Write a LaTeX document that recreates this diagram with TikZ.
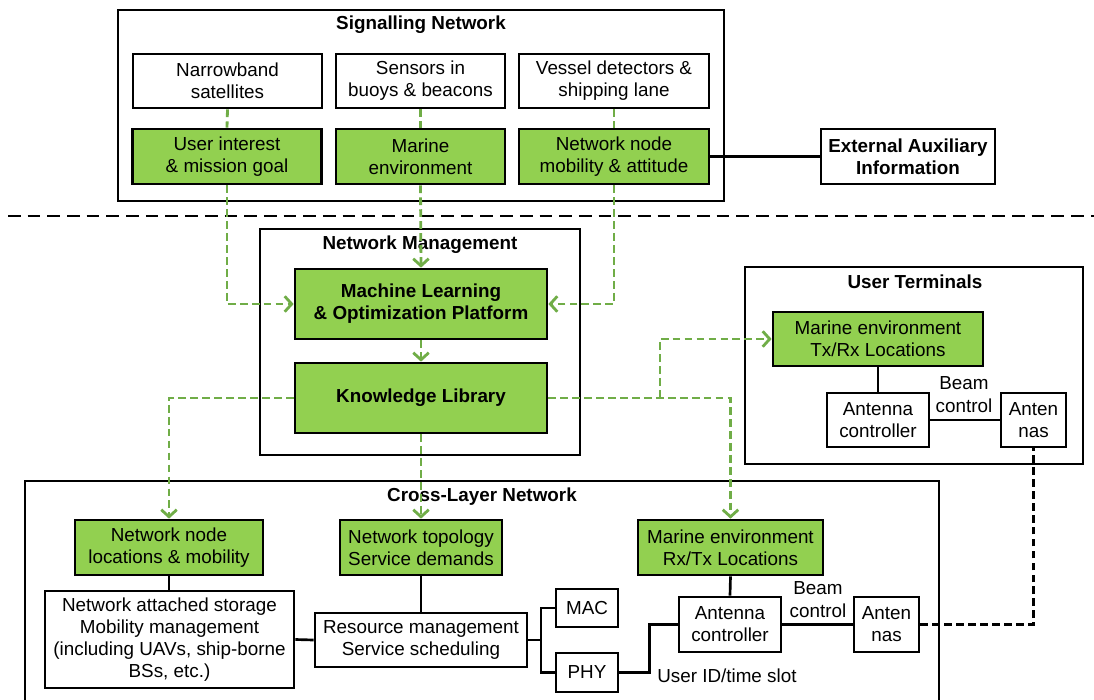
\documentclass[tikz,border=0pt]{standalone}
\usepackage{fontspec}
\setmainfont{Liberation Sans}
\usepackage{tikz}
\usetikzlibrary{arrows.meta,positioning}
\usepackage{xcolor}
\definecolor{mgreen}{RGB}{146,208,80}
\definecolor{mgreendark}{RGB}{112,173,71}
\tikzstyle{block} = [rectangle, draw=black, line width=1.9pt, align=center, inner sep=1pt, font=\fontsize{13.4}{15.6}\selectfont]
\tikzstyle{greenblock} = [block, fill=mgreen]
\tikzstyle{layerbox} = [draw=black, line width=1.9pt]
\tikzstyle{layertitle} = [font=\fontsize{13.4}{15.6}\selectfont\bfseries]
\tikzstyle{lbl} = [align=center, inner sep=0pt, font=\fontsize{13.4}{16.3}\selectfont]
\tikzstyle{greendash} = [draw=mgreendark, line width=2pt, dash pattern=on 5.5pt off 3pt]
\tikzstyle{flow} = [greendash, -{Straight Barb[length=5pt,width=11pt,line width=2pt]}]
\tikzstyle{link} = [draw=black, line width=1.9pt]

\begin{document}
\begin{tikzpicture}[x=0.025cm, y=-0.025cm]
\useasboundingbox (0,0) rectangle (1094,699);

% layers
\draw[layerbox] (118,10) rectangle (724,201);
\node (sigtitle) [layertitle] at (421,25) {Signalling Network};
\draw[layerbox] (260,229) rectangle (580,455);
\node (mgmttitle) [layertitle] at (420,245) {Network Management};
\draw[layerbox] (745,267) rectangle (1083,464);
\node (uttitle) [layertitle] at (915,282) {User Terminals};
\draw[layerbox] (25,705) -- (25,481) -- (939,481) -- (939,705);
\node (cltitle) [layertitle] at (482,497) {Cross-Layer Network};
\draw[line width=2pt, dash pattern=on 9pt off 5pt] (8,216) -- (1094,216);

% signalling network
\node (narrow) [block, minimum width=4.725cm, minimum height=1.35cm] at (227.5,81) {Narrowband\\satellites};
\node (sensors) [block, minimum width=4.225cm, minimum height=1.35cm] at (420.5,81) {Sensors in\\buoys \& beacons};
\node (vessel) [block, minimum width=4.75cm, minimum height=1.35cm] at (614,81) {Vessel detectors \&\\shipping lane};
\node (interest) [greenblock, minimum width=4.725cm, minimum height=1.375cm] at (227,156.5) {User interest\\\& mission goal};
\node (marinesig) [greenblock, minimum width=4.225cm, minimum height=1.375cm] at (420.5,156.5) {Marine\\environment};
\node (mobility) [greenblock, minimum width=4.75cm, minimum height=1.375cm] at (614,156.5) {Network node\\mobility \& attitude};
\node (extaux) [block, font=\fontsize{13.4}{15.6}\selectfont\bfseries, minimum width=4.35cm, minimum height=1.375cm] at (908,156.5) {External Auxiliary\\Information};

% network management
\node (mlplat) [greenblock, font=\fontsize{13.4}{15.6}\selectfont\bfseries, minimum width=6.3cm, minimum height=1.75cm] at (421,304) {Machine Learning\\\& Optimization Platform};
\node (klib) [greenblock, font=\fontsize{13.4}{15.6}\selectfont\bfseries, minimum width=6.3cm, minimum height=1.75cm] at (421,398) {Knowledge Library};

% user terminals
\node (marineut) [greenblock, minimum width=5.25cm, minimum height=1.35cm] at (878,339) {Marine environment\\Tx/Rx Locations};
\node (antctrlut) [block, minimum width=2.55cm, minimum height=1.35cm] at (878,420) {Antenna\\controller};
\node (antut) [block, minimum width=1.625cm, minimum height=1.35cm] at (1033.5,420) {Anten\\nas};
\node (beamut) [lbl] at (964,395) {Beam\\control};

% cross-layer network
\node (nodeloc) [greenblock, minimum width=4.7cm, minimum height=1.375cm] at (169,547.5) {Network node\\locations \& mobility};
\node (topo) [greenblock, minimum width=4.05cm, minimum height=1.375cm] at (421,547.5) {Network topology\\Service demands};
\node (marinecl) [greenblock, minimum width=4.625cm, minimum height=1.375cm] at (730.5,547.5) {Marine environment\\Rx/Tx Locations};
\node (nas) [block, minimum width=6.225cm, minimum height=2.425cm] at (169.5,639.5) {Network attached storage\\Mobility management\\(including UAVs, ship-borne\\BSs, etc.)};
\node (resmgmt) [block, minimum width=5.3cm, minimum height=1.35cm] at (421,640) {Resource management\\Service scheduling};
\node (mac) [block, minimum width=1.55cm, minimum height=0.95cm] at (587,608) {MAC};
\node (phy) [block, minimum width=1.55cm, minimum height=0.975cm] at (587,672.5) {PHY};
\node (antctrlcl) [block, minimum width=2.55cm, minimum height=1.375cm] at (730,624.5) {Antenna\\controller};
\node (antcl) [block, minimum width=1.625cm, minimum height=1.375cm] at (886.5,624.5) {Anten\\nas};
\node (beamcl) [lbl] at (818,600) {Beam\\control};
\node (userid) [lbl, anchor=west] at (657,676) {User ID/time slot};

% green flows
\coordinate (fork) at (660,398);
\draw[flow] (interest.south) |- (mlplat.west);
\draw[flow] (marinesig.south) -- (mlplat.north);
\draw[flow] (mobility.south) |- (mlplat.east);
\draw[flow] (mlplat.south) -- (klib.north);
\draw[flow] (klib.west) -| (nodeloc.north);
\draw[flow] (klib.south) -- (topo.north);
\draw[flow] (klib.east) -| (marinecl.north);
\draw[flow] (fork) |- (marineut.west);
\draw[greendash] (narrow.south) -- (interest.north);
\draw[greendash] (sensors.south) -- (marinesig.north);
\draw[greendash] (vessel.south) -- (mobility.north);

% black links
\coordinate (split) at (541,640);
\draw[link] (mobility.east) -- (extaux.west);
\draw[link] (marineut.south) -- (antctrlut.north);
\draw[link] (antctrlut.east) -- (antut.west);
\draw[link] (nodeloc.south) -- (nodeloc.south |- nas.north);
\draw[link] (nas.east) -- (resmgmt.west);
\draw[link] (topo.south) -- (resmgmt.north);
\draw[link] (resmgmt.east) -- (split);
\draw[link] (mac.west) -| (split);
\draw[link] (phy.west) -| (split);
\draw[link] (phy.east) -- ++(30,0) |- (antctrlcl.west);
\draw[link] (marinecl.south) -- (antctrlcl.north);
\draw[link] (antctrlcl.east) -- (antcl.west);
\draw[link, dash pattern=on 5.5pt off 3pt] (antcl.east) -| (antut.south);
\end{tikzpicture}
\end{document}
